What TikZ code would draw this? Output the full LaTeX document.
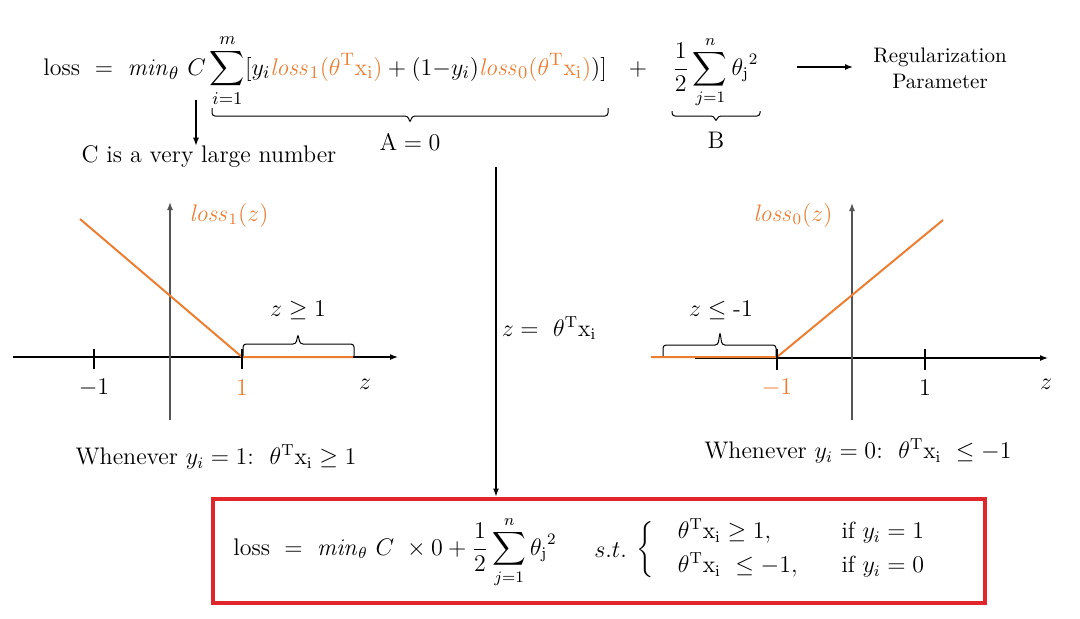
\documentclass[tikz,border=0pt]{standalone}
\usepackage{amsmath,amssymb}
\usetikzlibrary{arrows.meta}
\definecolor{lorange}{HTML}{ED7D31}
\definecolor{boxred}{HTML}{E0262B}
\definecolor{axisgrey}{HTML}{555555}
\newcommand{\thx}{\theta^{\mathrm{T}}\mathrm{x}_{\mathrm{i}}}
\begin{document}
\begin{tikzpicture}[x=0.5pt,y=-0.5pt,
  font=\fontsize{12}{14}\selectfont,
  txt/.style={inner sep=0pt},
  arr/.style={-{Latex[length=4pt,width=3pt]},line width=0.6pt},
  axisarr/.style={-{Latex[length=4pt,width=3pt]},line width=0.7pt},
  curve/.style={lorange,line width=1pt},
  bracepath/.style={line width=0.5pt,rounded corners=1.5pt},
  tick/.style={line width=1pt}]
\useasboundingbox (0,0) rectangle (1080,618);

% ---------- top equation ----------
\node[txt,anchor=base west,font=\fontsize{12.2}{14}\selectfont] (eq) at (43,75)
 {$\mathrm{loss}\ =\ \mathit{min}_\theta\ C\displaystyle\sum_{i=1}^{m}[y_i{\color{lorange}\mathit{loss}_1(\thx)}+(1{-}y_i){\color{lorange}\mathit{loss}_0(\thx)})]$};
\node[txt,anchor=base] (plus) at (638,75) {$+$};
\node[txt,anchor=base west] (reg) at (672,75)
 {$\displaystyle\frac{1}{2}\sum_{j=1}^{n}{\theta_{\mathrm{j}}}^2$};
\node[txt,align=center,font=\fontsize{10.5}{13}\selectfont] (regp) at (940,68) {Regularization\\Parameter};
\coordinate (ra) at (797,67);
\coordinate (rb) at (853,67);
\draw[arr] (ra) -- (rb);

% arrow from C
\coordinate (ctop) at (196,100);
\node[txt] (clarge) at (209,157) {C is a very large number};
\draw[arr] (ctop) -- (ctop |- clarge.north);

% brace A
\draw[bracepath] (212,108) -- (212,116) -- (408,116) -- (410,123) -- (412,116) -- (608,116) -- (608,108);
\node[txt] (A) at (410,142) {$\mathrm{A}=0$};
% brace B
\draw[bracepath] (672,111) -- (672,116) -- (714,116) -- (716,122) -- (718,116) -- (760,116) -- (760,111);
\node[txt] (B) at (716,140) {$\mathrm{B}$};

% ---------- central arrow ----------
\node[draw=boxred,line width=2pt,minimum width=386pt,minimum height=52pt,inner sep=0pt] (box) at (598.5,550.5) {};
\coordinate (zl) at (496,167);
\draw[arr] (zl) -- (zl |- box.north);
\node[txt] (zeq) at (549,328) {$z=\ \thx$};

% ---------- left graph ----------
\coordinate (Lxa) at (13,357);
\coordinate (Lxb) at (398,357);
\coordinate (Lya) at (170,420);
\coordinate (Lyb) at (170,202);
\draw[axisarr,black] (Lxa) -- (Lxb);
\draw[axisarr,axisgrey] (Lya) -- (Lyb);
\coordinate (Lp0) at (80,219);
\coordinate (Lp1) at (242,357);
\coordinate (Lp2) at (353,357);
\draw[curve] (Lp0) -- (Lp1) -- (Lp2);
\draw[tick] (94,349) -- (94,369);
\draw[tick] (242,349) -- (242,369);
\node[txt] (Lm1) at (94,388) {$-1$};
\node[txt,text=lorange] (L1) at (242,388) {$1$};
\node[txt] (Lz) at (365,384) {$z$};
\node[txt,text=lorange] (Lloss) at (229,215) {$\mathit{loss}_1(z)$};
\draw[bracepath] (243,356) -- (243,344) -- (296,344) -- (298,334) -- (300,344) -- (354,344) -- (354,356);
\node[txt] (Lcond) at (298,310) {$z\geq 1$};
\node[txt] (Lwhen) at (216,457) {Whenever $y_i=1$:\ \ $\thx\geq 1$};

% ---------- right graph ----------
\coordinate (Rxa) at (695,358);
\coordinate (Rxb) at (1048,358);
\coordinate (Rya) at (852,420);
\coordinate (Ryb) at (852,203);
\draw[axisarr,black] (Rxa) -- (Rxb);
\draw[axisarr,axisgrey] (Rya) -- (Ryb);
\coordinate (Rp0) at (651,357);
\coordinate (Rp1) at (777,357);
\coordinate (Rp2) at (943,220);
\draw[curve] (Rp0) -- (Rp1) -- (Rp2);
\draw[tick] (777,349) -- (777,370);
\draw[tick] (925,349) -- (925,370);
\node[txt,text=lorange] (Rm1) at (777,388) {$-1$};
\node[txt] (R1) at (925,388) {$1$};
\node[txt] (Rz) at (1046,384) {$z$};
\node[txt,text=lorange] (Rloss) at (793,215) {$\mathit{loss}_0(z)$};
\draw[bracepath] (663,356) -- (663,345) -- (718,345) -- (720,332) -- (722,345) -- (776,345) -- (776,356);
\node[txt] (Rcond) at (721,310) {$z\leq\text{-}1$};
\node[txt] (Rwhen) at (858,451) {Whenever $y_i=0$:\ \ $\thx\ \leq -1$};

% ---------- boxed result ----------
\node[txt,anchor=west,font=\fontsize{11.7}{14}\selectfont] (res) at (233,552)
 {$\mathrm{loss}\ =\ \mathit{min}_\theta\ C\ \times 0+\displaystyle\frac{1}{2}\sum_{j=1}^{n}{\theta_{\mathrm{j}}}^2$};
\node[txt,anchor=west,font=\fontsize{11.7}{14}\selectfont] (st) at (594,550) {$s.t.$};
\node[txt,anchor=west,font=\fontsize{11.7}{14}\selectfont] (cases) at (636,550)
 {$\left\{\begin{array}{@{\hspace{12pt}}l@{\hspace{22pt}}l}
   \thx\geq 1, & \text{if } y_i=1\\[3pt]
   \thx\ \leq -1, & \text{if } y_i=0
 \end{array}\right.$};
\end{tikzpicture}
\end{document}
